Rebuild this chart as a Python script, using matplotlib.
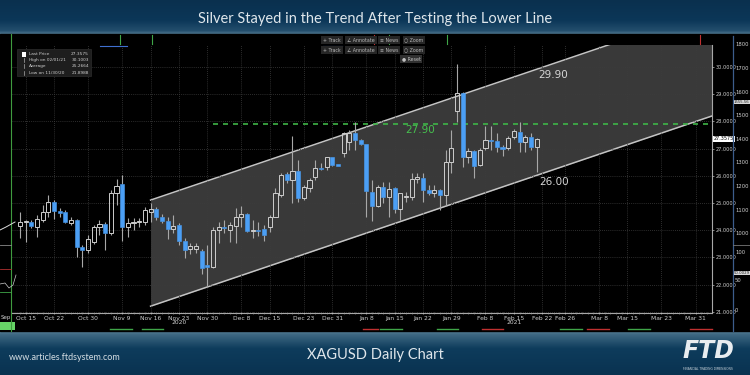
import numpy as np
import pandas as pd
import matplotlib
matplotlib.use('Agg')
import matplotlib.pyplot as plt
from matplotlib.patches import Rectangle

# XAGUSD daily candles, 14 Oct 2020 .. 19 Feb 2021
opens = [24.15, 24.30, 24.31, 24.11, 24.38, 24.66, 25.05, 24.72, 24.67, 24.28,
         24.38, 23.39, 23.27, 23.58, 24.11, 24.23, 23.91, 25.38, 25.69, 24.11,
         24.25, 24.30, 24.31, 24.68, 24.78, 24.50, 24.35, 24.03, 24.19, 23.62,
         23.30, 23.31, 23.24, 22.72, 22.64, 24.01, 24.12, 24.01, 24.15, 24.48,
         24.59, 23.97, 24.01, 24.04, 24.13, 24.50, 25.29, 26.07, 25.85, 26.19,
         25.17, 25.54, 25.97, 26.28, 26.33, 26.68, 26.42, 26.83, 27.25, 27.56,
         27.32, 27.16, 25.42, 24.89, 25.58, 25.23, 25.54, 24.77, 25.21, 25.23,
         25.87, 25.94, 25.48, 25.36, 25.48, 25.28, 26.52, 28.39, 29.06, 26.70,
         26.92, 26.40, 27.01, 27.32, 27.29, 27.05, 27.01, 27.42, 27.62, 27.25,
         27.42, 27.05]
highs = [24.68, 24.38, 24.38, 24.56, 24.93, 25.29, 25.11, 24.81, 24.74, 24.50,
         24.40, 23.46, 23.82, 24.19, 24.38, 24.31, 25.48, 25.87, 26.03, 24.44,
         24.44, 24.44, 24.86, 24.99, 24.86, 24.60, 24.50, 24.56, 24.25, 23.70,
         23.54, 23.54, 23.33, 23.46, 24.11, 24.31, 24.38, 24.31, 24.81, 24.89,
         24.62, 24.38, 24.30, 24.20, 24.55, 25.54, 26.11, 26.15, 27.46, 26.58,
         25.66, 25.94, 26.58, 26.46, 26.70, 26.70, 26.45, 27.62, 27.68, 27.99,
         27.34, 27.18, 25.85, 25.66, 25.78, 25.78, 25.60, 25.38, 25.42, 26.09,
         26.09, 26.09, 25.66, 25.66, 25.50, 26.95, 27.68, 30.10, 29.10, 27.01,
         26.95, 27.01, 27.83, 27.83, 27.56, 27.13, 27.46, 27.71, 27.99, 27.50,
         27.56, 27.40]
lows = [23.71, 23.58, 24.08, 23.76, 24.31, 24.50, 24.40, 24.50, 24.28, 24.19,
        23.03, 22.64, 23.17, 23.49, 23.82, 23.27, 23.82, 24.93, 23.62, 23.76,
        24.00, 24.11, 24.19, 24.31, 24.38, 24.25, 23.67, 23.91, 23.46, 22.97,
        23.13, 23.17, 22.39, 21.90, 22.60, 23.54, 23.89, 23.58, 23.54, 24.11,
        23.95, 23.70, 23.80, 23.60, 23.95, 24.48, 25.23, 25.72, 24.99, 25.05,
        25.11, 25.42, 25.85, 26.21, 26.21, 26.38, 26.35, 26.68, 26.95, 26.95,
        27.12, 24.50, 24.35, 24.86, 24.99, 24.50, 24.62, 24.38, 25.05, 25.11,
        25.72, 25.05, 25.29, 25.23, 24.74, 24.93, 26.09, 27.99, 26.33, 26.46,
        25.94, 26.36, 26.95, 26.95, 26.89, 26.73, 26.95, 27.34, 26.89, 26.89,
        26.95, 26.15]
closes = [24.31, 24.32, 24.15, 24.40, 24.66, 25.05, 24.72, 24.62, 24.31, 24.38,
          23.37, 23.27, 23.67, 24.11, 24.23, 23.91, 25.38, 25.63, 24.11, 24.25,
          24.31, 24.32, 24.74, 24.78, 24.50, 24.35, 24.04, 24.15, 23.62, 23.27,
          23.42, 23.43, 22.60, 22.64, 24.01, 24.11, 24.08, 24.19, 24.50, 24.59,
          23.97, 24.01, 23.97, 23.82, 24.50, 25.36, 26.03, 25.85, 26.19, 25.17,
          25.58, 25.85, 26.28, 26.24, 26.68, 26.40, 26.38, 27.56, 27.56, 27.32,
          27.17, 25.45, 24.89, 25.58, 25.23, 25.50, 24.77, 25.36, 25.26, 25.87,
          25.97, 25.48, 25.36, 25.48, 25.28, 26.52, 27.01, 29.06, 26.70, 26.92,
          26.36, 26.95, 27.32, 27.28, 27.05, 27.00, 27.38, 27.66, 27.25, 27.42,
          27.05, 27.36]

first_day = '2020-10-14'
last_axis_day = '2021-04-09'
holidays = ['2020-12-25']

tick_dates = ['2020-10-15', '2020-10-22', '2020-10-30', '2020-11-09', '2020-11-16',
              '2020-11-23', '2020-11-30', '2020-12-08', '2020-12-15', '2020-12-23',
              '2020-12-31', '2021-01-08', '2021-01-15', '2021-01-22', '2021-01-29',
              '2021-02-08', '2021-02-15', '2021-02-22', '2021-02-26', '2021-03-08',
              '2021-03-15', '2021-03-23', '2021-03-31']
tick_labels = ['Oct 15', 'Oct 22', 'Oct 30', 'Nov 9', 'Nov 16', 'Nov 23', 'Nov 30',
               'Dec 8', 'Dec 15', 'Dec 23', 'Dec 31', 'Jan 8', 'Jan 15', 'Jan 22',
               'Jan 29', 'Feb 8', 'Feb 15', 'Feb 22', 'Feb 26', 'Mar 8', 'Mar 15',
               'Mar 23', 'Mar 31']
year_names = ['2020', '2021']
year_dates = ['2020-11-23', '2021-02-15']

price_ticks = [21, 22, 23, 24, 25, 26, 27, 28, 29, 30]

# rising channel drawn from 16 Nov
channel_start = '2020-11-16'
channel_lower0 = 21.21
channel_upper0 = 25.11
channel_slope = 0.0707  # per trading day
resistance = 27.90
resistance_start = '2020-12-01'

legend_names = ['Last Price', 'High on 02/01/21', 'Average', 'Low on 11/30/20']
legend_values = ['27.3575', '30.1003', '25.2664', '21.8988']

right_scale = ['1800', '1700', '1600', '1500', '1400', '1300', '1200', '1100', '1000']
lower_scale = ['100', '50', '0']

# trading-day index
days = pd.bdate_range(first_day, last_axis_day)
days = days[~days.isin(pd.to_datetime(holidays))]
pos = {d: i for i, d in enumerate(days)}
def di(s):
    return pos[pd.Timestamp(s)]

W, H = 750, 375
def fx(x):
    return x / W
def fy(y):
    return 1 - y / H

fig = plt.figure(figsize=(7.5, 3.75), dpi=100)

# frame gradient (header / footer)
bg = fig.add_axes([0, 0, 1, 1], zorder=-10)
bg.axis('off')
rows = np.arange(H)
stops_y = [0, 20, 30, 34, 331, 334, 348, 375]
stops_c = [(10, 48, 78), (12, 55, 88), (35, 78, 108), (85, 125, 148),
           (85, 125, 148), (62, 104, 130), (14, 60, 92), (9, 50, 80)]
grad = np.zeros((H, 1, 3))
for k in range(3):
    grad[:, 0, k] = np.interp(rows, stops_y, [c[k] for c in stops_c]) / 255
bg.imshow(grad, aspect='auto', extent=[0, 1, 0, 1])
bg.set_xlim(0, 1)
bg.set_ylim(0, 1)
bg.add_patch(Rectangle((0, fy(331)), 1, fy(34) - fy(331), color='black'))

fig.text(0.5, fy(19), 'Silver Stayed in the Trend After Testing the Lower Line',
         color='#dfe6eb', fontsize=10.5, family='Lato', ha='center', va='center')
fig.text(fx(9), fy(357), 'www.articles.ftdsystem.com', color='#d4dde3',
         fontsize=6.5, family='Lato', ha='left', va='center')
fig.text(0.5, fy(355), 'XAGUSD Daily Chart', color='#dfe6eb', fontsize=10.5,
         family='Lato', ha='center', va='center')
fig.text(fx(708), fy(351), 'FTD', color='#e9edf0', fontsize=17, fontweight='bold',
         style='italic', family='DejaVu Sans', ha='center', va='center')
fig.text(fx(708), fy(369), 'FINANCIAL TRADING DIMENSIONS', color='#c8d2d9',
         fontsize=2.2, ha='center', va='center')

# main chart
ax = fig.add_axes([fx(12), fy(313), fx(700), 268 / H])
ax.set_facecolor('black')
x = np.arange(len(opens))
o = np.array(opens)
h = np.array(highs)
l = np.array(lows)
c = np.array(closes)
up = c >= o
lo_b = np.minimum(o, c)
hi_b = np.maximum(o, c)
size = np.maximum(hi_b - lo_b, 0.025)

x0 = -1.41
x1 = 121.9
ax.set_xlim(x0, x1)
ax.set_ylim(20.96, 30.81)

cs = di(channel_start)
cx = np.array([cs, x1 + 1])
lower = channel_lower0 + channel_slope * (cx - cs)
upper = channel_upper0 + channel_slope * (cx - cs)
ax.fill_between(cx, lower, upper, color='#393939', zorder=1, linewidth=0)
ax.plot(cx, lower, color='#c4c4c4', lw=1.1, zorder=2)
ax.plot(cx, upper, color='#c4c4c4', lw=1.1, zorder=2)

rs = di(resistance_start)
ax.plot([rs, x1], [resistance, resistance], color='#3fb548', lw=1.2,
        dashes=(3, 3), zorder=2.6)

ax.vlines(x, l, lo_b, color='#a8a8a8', lw=0.8, zorder=3)
ax.vlines(x, hi_b, h, color='#a8a8a8', lw=0.8, zorder=3)
ax.bar(x[up], size[up], bottom=lo_b[up], width=0.72, facecolor='none',
       edgecolor='#cdcdcd', linewidth=0.7, zorder=4)
ax.bar(x[~up], size[~up], bottom=lo_b[~up], width=0.72, color='#4b9ff5',
       edgecolor='#4b9ff5', linewidth=0.4, zorder=4)

ax.text(94, 29.71, '29.90', color='#d6d6d6', fontsize=7.5, ha='center', va='center', zorder=5)
ax.text(94, 25.77, '26.00', color='#d6d6d6', fontsize=7.5, ha='center', va='center', zorder=5)
ax.text(70.4, 27.68, '27.90', color='#46c04e', fontsize=7.5, ha='center', va='center', zorder=5)

# axes styling
ax.set_xticks([di(d) for d in tick_dates])
ax.set_xticklabels(tick_labels)
ax.set_xticks(np.arange(0, int(x1) + 1), minor=True)
ax.yaxis.tick_right()
ax.set_yticks(price_ticks)
ax.set_yticklabels(['%.4f' % v for v in price_ticks])
ax.tick_params(axis='x', colors='#bdbdbd', labelcolor='#d0d0d0', labelsize=4.3,
               length=2, width=0.5, pad=1.5, direction='inout')
ax.tick_params(axis='x', which='minor', colors='#9a9a9a', length=1.5, width=0.4,
               direction='inout')
ax.tick_params(axis='y', colors='#bdbdbd', labelcolor='#d0d0d0', labelsize=3.6,
               length=1.5, width=0.5, pad=0.8)
for s in ['top', 'left']:
    ax.spines[s].set_visible(False)
for s in ['right', 'bottom']:
    ax.spines[s].set_color('#a8a8a8')
    ax.spines[s].set_linewidth(0.8)
ax.set_axisbelow(False)
ax.grid(True, which='major', color='#3c3c3c', lw=0.6, ls=(0, (1, 1.5)), zorder=2.5)

for name, d in zip(year_names, year_dates):
    ax.text(di(d), -10 / 268, name, transform=ax.get_xaxis_transform(),
            color='#d0d0d0', fontsize=4.3, ha='center', va='center')

ax.text(1.003, 27.3575, '27.3575', transform=ax.get_yaxis_transform(),
        fontsize=3.5, color='black', ha='left', va='center',
        bbox=dict(boxstyle='square,pad=0.15', fc='white', ec='none'), zorder=6)

# legend box
fig.patches.append(Rectangle((fx(17), fy(76)), fx(74), fy(49) - fy(76),
                             transform=fig.transFigure, fc='#1e1e1e', ec='#2c2c2c', lw=0.5))
for k, (n, v) in enumerate(zip(legend_names, legend_values)):
    yy = fy(54 + k * 6.2)
    fig.text(fx(29), yy, n, color='#d0d0d0', fontsize=3.1, va='center')
    fig.text(fx(89), yy, v, color='#d0d0d0', fontsize=3.1, va='center', ha='right')
fig.patches.append(Rectangle((fx(22), fy(56.5)), fx(4), fy(52) - fy(56.5),
                             transform=fig.transFigure, fc='white', ec='none'))
for k in range(1, 4):
    fig.lines.append(plt.Line2D([fx(24), fx(24)], [fy(52 + k * 6.2), fy(56 + k * 6.2)],
                                transform=fig.transFigure, color='#aaaaaa', lw=0.5))

# toolbar buttons
for yb in [40, 50]:
    for xb, lab in [(332, '+ Track'), (361, '∠ Annotate'), (389, '≡ News'), (414, '○ Zoom')]:
        fig.text(fx(xb), fy(yb), lab, color='#b8b8b8', fontsize=3.4, ha='center', va='center',
                 bbox=dict(boxstyle='square,pad=0.35', fc='#262626', ec='none'))
fig.text(fx(411), fy(59), '● Reset', color='#c0c0c0', fontsize=3.4, ha='center', va='center',
         bbox=dict(boxstyle='square,pad=0.35', fc='#303030', ec='none'))
fig.lines.append(plt.Line2D([fx(323), fx(342)], [fy(46), fy(46)], transform=fig.transFigure,
                            color='#3f7fe0', lw=0.8))

# strip markers on top and bottom
for xm, col in [(120, '#3fa548'), (152, '#3fa548'), (374, '#c03030'), (389, '#3fa548'),
                (447, '#3fa548'), (700, '#c03030')]:
    fig.lines.append(plt.Line2D([fx(xm), fx(xm)], [fy(35), fy(44)], transform=fig.transFigure,
                                color=col, lw=0.8))
fig.lines.append(plt.Line2D([fx(100), fx(127)], [fy(46), fy(46)], transform=fig.transFigure,
                            color='#3f6fd0', lw=0.8))
for xa, xb, col in [(110, 132, '#3fa548'), (142, 163, '#3fa548'), (363, 378, '#c03030'),
                    (380, 402, '#3fa548'), (437, 458, '#3fa548'), (482, 503, '#c03030'),
                    (560, 582, '#3fa548'), (587, 609, '#c03030'), (628, 650, '#3fa548'),
                    (690, 712, '#c03030')]:
    fig.lines.append(plt.Line2D([fx(xa), fx(xb)], [fy(329), fy(329)], transform=fig.transFigure,
                                color=col, lw=1.0))

# left side panel remnants
fig.lines.append(plt.Line2D([fx(11), fx(11)], [fy(34), fy(331)], transform=fig.transFigure,
                            color='#3f9b3f', lw=0.8))
for yl, col in [(245, '#8a8a8a'), (269, '#b03030'), (292, '#3fa548')]:
    fig.lines.append(plt.Line2D([0, fx(11)], [fy(yl), fy(yl)], transform=fig.transFigure,
                                color=col, lw=0.6))
fig.lines.append(plt.Line2D([0, fx(6), fx(15)], [fy(230), fy(227), fy(222)],
                            transform=fig.transFigure, color='#dddddd', lw=0.7))
fig.lines.append(plt.Line2D([0, fx(5), fx(9), fx(13), fx(16)],
                            [fy(284), fy(283), fy(288), fy(285), fy(275)],
                            transform=fig.transFigure, color='#cccccc', lw=0.5))
fig.patches.append(Rectangle((0, fy(330)), fx(15), fy(322) - fy(330),
                             transform=fig.transFigure, fc='#66d466', ec='none'))
fig.text(fx(1), fy(318), 'Sep', color='#d0d0d0', fontsize=4, va='center')

# far right secondary scale
fig.lines.append(plt.Line2D([fx(733), fx(733)], [fy(36), fy(331)], transform=fig.transFigure,
                            color='#3c5d8c', lw=0.9))
fig.lines.append(plt.Line2D([fx(733), fx(750)], [fy(245), fy(245)], transform=fig.transFigure,
                            color='#777777', lw=0.6))
for k, lab in enumerate(right_scale):
    yy = 45 + k * 23.6
    fig.text(fx(735), fy(yy), lab, color='#d0d0d0', fontsize=3.8, va='center')
for k, lab in enumerate(lower_scale):
    fig.text(fx(735), fy(252 + k * 29), lab, color='#d0d0d0', fontsize=3.8, va='center')
fig.text(fx(734), fy(102), '1555.56', color='#222222', fontsize=2.8, va='center',
         bbox=dict(boxstyle='square,pad=0.1', fc='#d8d8d8', ec='none'))
fig.text(fx(734), fy(273), '50.0029', color='#222222', fontsize=2.8, va='center',
         bbox=dict(boxstyle='square,pad=0.1', fc='#d8d8d8', ec='none'))

fig.savefig('out.png', dpi=100, facecolor=fig.get_facecolor())
